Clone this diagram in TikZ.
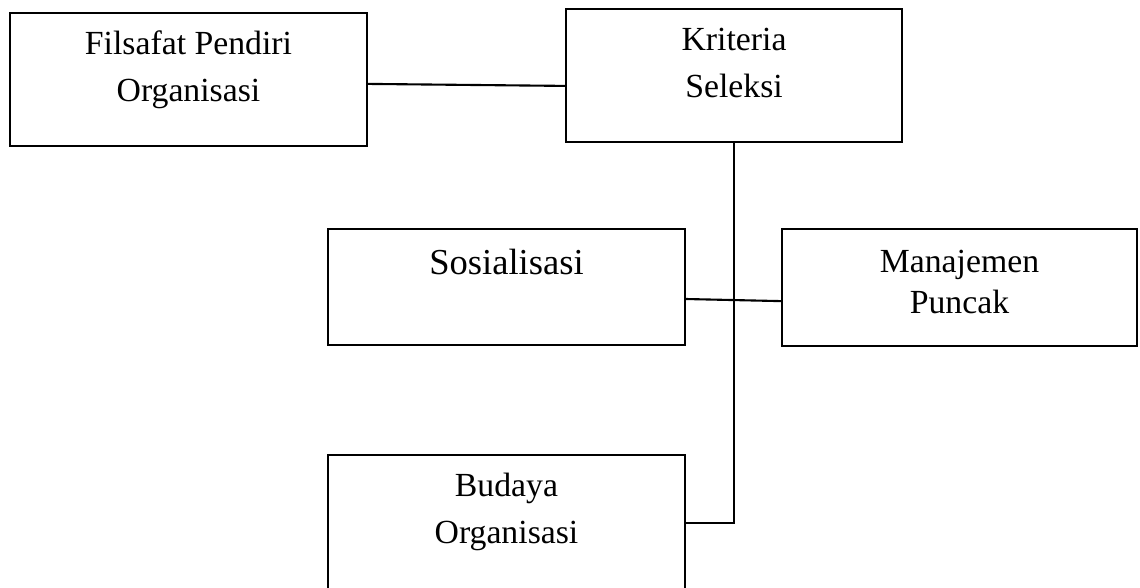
\documentclass[tikz,border=0pt]{standalone}
\usepackage{fontspec}
\setmainfont{Liberation Serif}
\usepackage{tikz}
\usetikzlibrary{positioning, calc}

\begin{document}
\begin{tikzpicture}[x=0.025cm, y=-0.025cm, line width=1.5pt,
    box/.style={draw, rectangle, inner sep=0pt},
    lbl/.style={anchor=base, align=center, inner sep=0pt,
      font=\fontsize{24}{33.5}\selectfont}]
  \useasboundingbox (0,0) rectangle (1140,587);
  % Boxes
  \node[box, minimum width=8.925cm, minimum height=3.325cm] (filsafat)  at (188.5,79.5) {};
  \node[box, minimum width=8.4cm,   minimum height=3.325cm] (kriteria)  at (734,75.5)   {};
  \node[box, minimum width=8.925cm, minimum height=2.9cm]   (sosial)    at (506.5,287)  {};
  \node[box, minimum width=8.875cm, minimum height=2.925cm] (manajemen) at (959.5,287.5) {};
  \node[box, minimum width=8.925cm, minimum height=3.4cm]   (budaya)    at (506.5,523)  {};
  % Labels inside boxes (base = last line)
  \node[lbl] (filsafat-t)  at ([yshift=-2.25cm]filsafat.north)   {Filsafat Pendiri\\Organisasi};
  \node[lbl] (kriteria-t)  at ([yshift=-2.25cm]kriteria.north)   {Kriteria\\Seleksi};
  \node[lbl, font=\fontsize{26}{33.5}\selectfont]
             (sosial-t)    at ([yshift=-1.175cm]sosial.north)    {Sosialisasi};
  \node[lbl] (manajemen-t) at ([yshift=-2.15cm]manajemen.north)  {Manajemen\\[-0.13cm]Puncak};
  \node[lbl] (budaya-t)    at ([yshift=-2.25cm]budaya.north)     {Budaya\\Organisasi};
  % Connecting lines
  \draw ([yshift=-0.11cm]filsafat.east) -- ([yshift=-0.26cm]kriteria.west);
  \draw ([yshift=-0.3cm]sosial.east) -- ([yshift=-0.34cm]manajemen.west);
  \draw (kriteria.south) |- (budaya.east);
\end{tikzpicture}
\end{document}
